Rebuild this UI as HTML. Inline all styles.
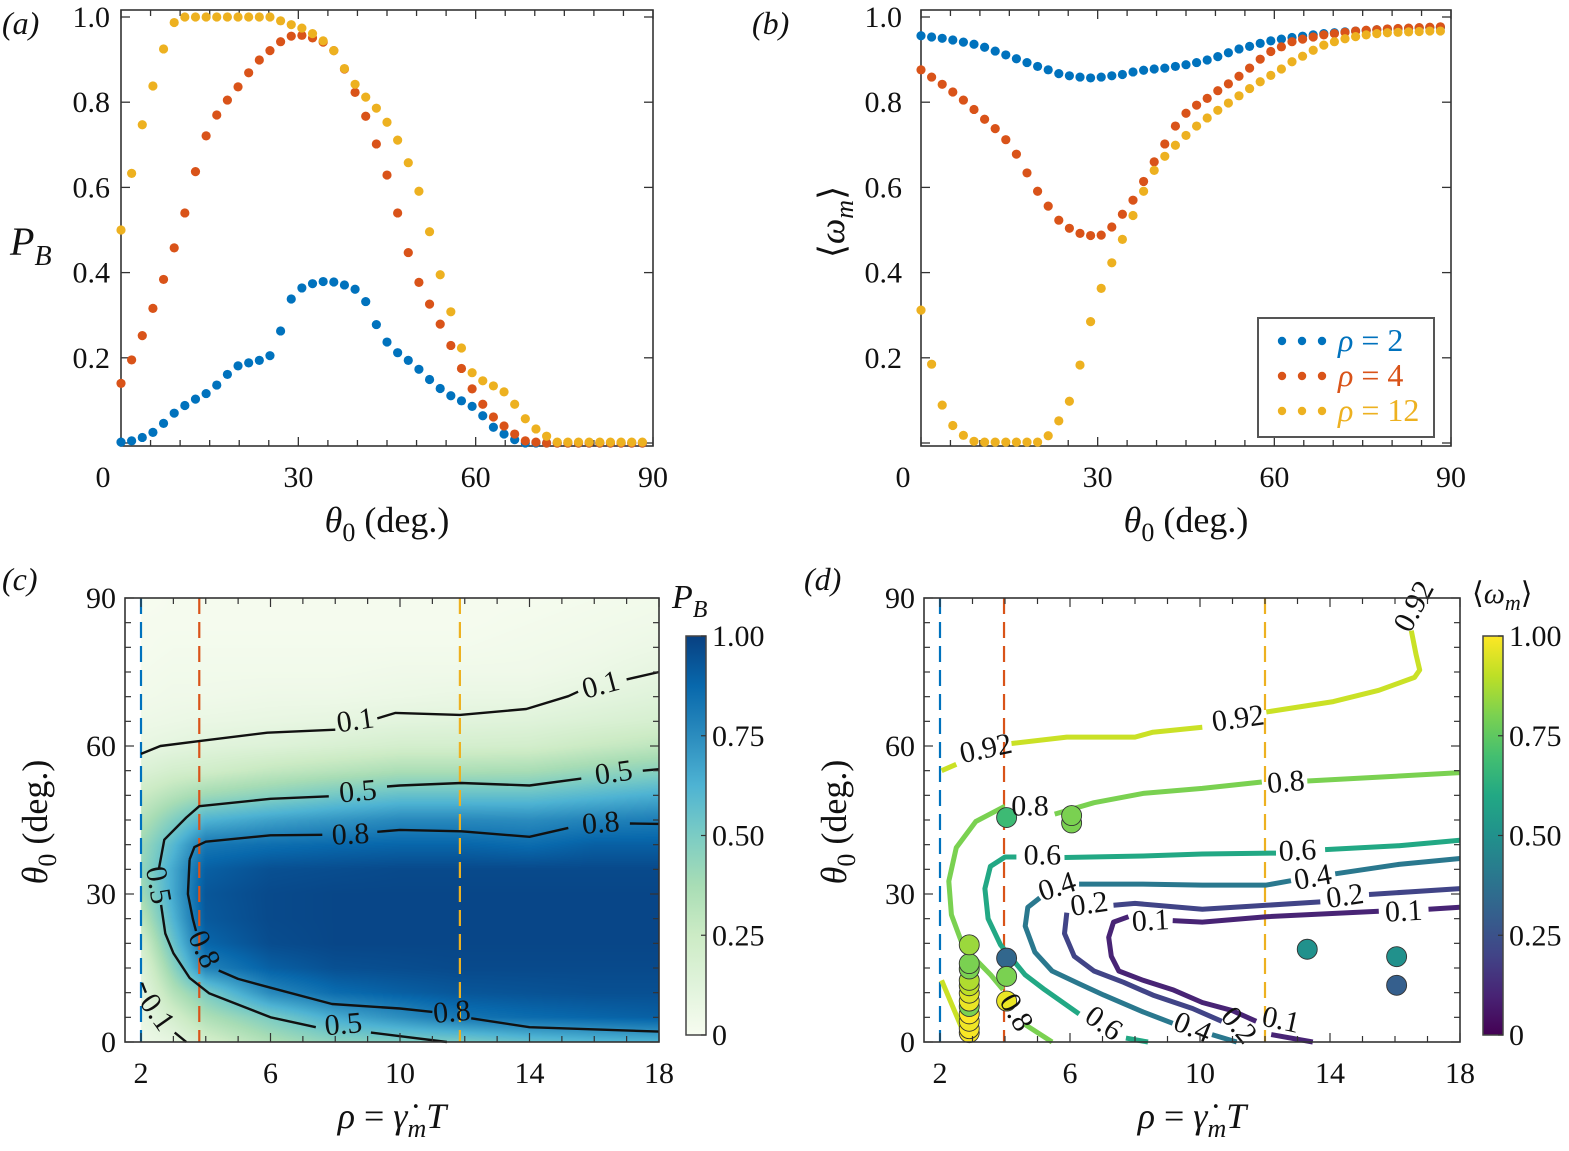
<!DOCTYPE html>
<html><head><meta charset="utf-8"><style>
body{margin:0;background:#fff;width:1569px;height:1151px;position:relative;overflow:hidden;font-family:"Liberation Serif","Times New Roman",Times,"Noto Serif CJK SC",serif}
#hm{position:absolute;left:125px;top:598px}
#fig{position:absolute;left:0;top:0}
svg text{font-family:"Liberation Serif","Times New Roman",Times,"DejaVu Serif","Noto Serif CJK SC",serif;fill:#111}
</style></head><body>
<canvas id="hm" width="534" height="444"></canvas>
<svg id="fig" width="1569" height="1151" xmlns="http://www.w3.org/2000/svg"></svg>
<script>
// ---------- data: panels (a),(b) ----------
const nPts = 50;
const thetaPts = Array.from({length:nPts},(_, i)=>i*1.8);
const aBlue=[0.002,0.005,0.013,0.025,0.046,0.070,0.088,0.103,0.116,0.136,0.161,0.181,0.188,0.194,0.205,0.263,0.338,0.364,0.374,0.379,0.378,0.371,0.361,0.332,0.278,0.237,0.212,0.194,0.173,0.149,0.128,0.111,0.099,0.086,0.064,0.037,0.021,0.008,0,0,0,0,0,0,0,0,0,0,0,0];
const aOrange=[0.140,0.195,0.252,0.316,0.384,0.458,0.540,0.637,0.721,0.770,0.805,0.836,0.869,0.899,0.921,0.942,0.955,0.957,0.951,0.941,0.921,0.878,0.823,0.767,0.702,0.629,0.540,0.447,0.377,0.326,0.279,0.229,0.175,0.127,0.091,0.061,0.040,0.021,0.005,0.002,0,0,0,0,0,0,0,0,0,0];
const aYellow=[0.500,0.633,0.747,0.838,0.925,0.987,1,1,1,1,1,1,1,1,1,0.991,0.982,0.974,0.961,0.944,0.921,0.879,0.842,0.812,0.786,0.753,0.711,0.658,0.591,0.496,0.395,0.308,0.223,0.165,0.146,0.134,0.120,0.091,0.057,0.033,0.016,0.002,0.002,0.002,0.002,0.002,0.002,0.002,0.002,0.002];
const bBlue=[0.956,0.953,0.950,0.946,0.941,0.936,0.929,0.920,0.911,0.902,0.893,0.884,0.876,0.867,0.862,0.859,0.857,0.859,0.862,0.865,0.871,0.875,0.878,0.880,0.884,0.888,0.893,0.899,0.907,0.916,0.925,0.931,0.938,0.944,0.948,0.952,0.955,0.958,0.961,0.963,0.965,0.967,0.968,0.970,0.971,0.972,0.973,0.974,0.975,0.975];
const bOrange=[0.876,0.859,0.842,0.824,0.805,0.783,0.760,0.738,0.712,0.678,0.634,0.591,0.556,0.523,0.504,0.492,0.487,0.488,0.507,0.537,0.570,0.614,0.660,0.702,0.744,0.774,0.793,0.809,0.827,0.843,0.861,0.880,0.901,0.919,0.930,0.942,0.948,0.953,0.958,0.961,0.964,0.967,0.969,0.970,0.972,0.973,0.974,0.975,0.976,0.977];
const bYellow=[0.312,0.185,0.089,0.041,0.018,0.004,0.002,0.002,0.002,0.002,0.002,0.002,0.017,0.052,0.098,0.183,0.285,0.363,0.423,0.478,0.534,0.591,0.640,0.673,0.699,0.722,0.744,0.763,0.781,0.798,0.815,0.832,0.848,0.863,0.878,0.895,0.908,0.922,0.934,0.942,0.949,0.954,0.958,0.961,0.963,0.964,0.965,0.966,0.967,0.967];
const seriesNames=["rho-2","rho-4","rho-12"];
const seriesLabels=["2","4","12"];
const seriesColors=["#0072bd","#d95319","#edb120"];
const xTicksAB=[0,30,60,90];
const yTicksAB=[0.2,0.4,0.6,0.8,1.0];

// ---------- data: panel (c) heatmap grid ----------
const gridRho=[2,3,4,6,8,10,12,14,16,18];
const gridTheta=[0,5,10,15,20,25,30,35,40,45,50,55,60,65,70,75,80,85,90];
const pbCol2=[0.05,0.07,0.09,0.13,0.2,0.3,0.38,0.42,0.4,0.33,0.25,0.15,0.08,0.05,0.03,0.02,0.01,0.01,0];
const pbCol3=[0.09,0.2,0.33,0.45,0.55,0.62,0.66,0.66,0.6,0.48,0.33,0.2,0.1,0.06,0.04,0.03,0.02,0.01,0.01];
const pbCol4=[0.2,0.35,0.5,0.78,0.88,0.92,0.93,0.9,0.82,0.62,0.4,0.22,0.12,0.07,0.04,0.03,0.02,0.01,0.01];
const pbCol6=[0.35,0.5,0.76,0.9,0.96,0.97,0.97,0.95,0.85,0.68,0.46,0.28,0.14,0.08,0.05,0.03,0.02,0.01,0.01];
const pbCol8=[0.45,0.65,0.86,0.95,0.98,0.98,0.98,0.96,0.87,0.72,0.52,0.32,0.17,0.09,0.05,0.03,0.02,0.01,0.01];
const pbCol10=[0.48,0.74,0.9,0.96,0.98,0.98,0.98,0.97,0.88,0.76,0.56,0.36,0.2,0.11,0.06,0.04,0.02,0.01,0.01];
const pbCol12=[0.5,0.83,0.93,0.97,0.98,0.98,0.98,0.97,0.88,0.76,0.56,0.36,0.2,0.12,0.07,0.04,0.02,0.01,0.01];
const pbCol14=[0.56,0.86,0.94,0.97,0.98,0.98,0.98,0.97,0.86,0.75,0.56,0.37,0.21,0.13,0.07,0.04,0.03,0.02,0.01];
const pbCol16=[0.6,0.88,0.95,0.97,0.98,0.98,0.98,0.97,0.9,0.78,0.6,0.42,0.26,0.16,0.1,0.06,0.04,0.03,0.02];
const pbCol18=[0.62,0.9,0.95,0.97,0.98,0.98,0.98,0.97,0.9,0.8,0.64,0.46,0.3,0.19,0.13,0.09,0.06,0.04,0.03];
const pbGrid=[pbCol2,pbCol3,pbCol4,pbCol6,pbCol8,pbCol10,pbCol12,pbCol14,pbCol16,pbCol18];

// contour lines (c): segments of [rho, theta]
const cSegs=[
 [[2,58.4],[2.6,60],[3.8,61],[5.9,62.7],[8.0,63.3]],
 [[9.3,65.6],[9.86,66.7],[11.85,66.3],[13.9,67.5],[15.2,70.1],[15.5,71]],
 [[17,73.5],[18,75]],
 [[2.03,12],[2.15,10]],
 [[3.04,1.9],[3.4,0]],
 [[2.55,35],[2.72,41],[3.4,45.5],[3.8,47.8],[6,49.3],[7.8,49.8]],
 [[9.6,51.8],[10,52],[11.9,52.5],[14,52],[15.6,53.4]],
 [[17.5,55],[18,55.3]],
 [[2.62,27.8],[2.75,22],[3,18],[3.5,13],[4.1,9.9],[6,5],[7.4,3.0]],
 [[9.1,1.9],[11.45,0]],
 [[3.5,37],[3.65,39.5],[4,40.6],[6,41.9],[7.6,42.0]],
 [[9.3,42.6],[10,43],[11.9,42.7],[14,41.6],[15.2,43.4]],
 [[17.1,44.3],[18,44.2]],
 [[3.5,37],[3.45,30],[3.6,25],[3.7,22.5]],
 [[4.4,14.5],[5.0,12.8],[6,11],[7.9,7.7],[10,6.8],[11.0,6.1]],
 [[12.2,4.8],[14,3],[18,2.1]]
];
const cLabRho=[8.62,16.2,2.5,2.54,8.7,16.6,8.25,8.47,16.2,3.95,11.6];
const cLabTheta=[65.2,72.4,6,31.8,50.8,54.6,3.6,42.1,44.4,18.8,6.1];
const cLabText=["0.1","0.1","0.1","0.5","0.5","0.5","0.5","0.8","0.8","0.8","0.8"];
const cLabRot=[-8,-15,55,80,-5,-8,-5,-3,-5,65,-5];
const cDashRho=[2,3.8,11.85];
const cDashCol=["#0072bd","#d95319","#edb120"];

// ---------- data: panel (d) ----------
const dLevels=[0.92,0.92,0.92,0.92,0.8,0.8,0.8,0.8,0.6,0.6,0.6,0.6,0.4,0.4,0.4,0.4,0.2,0.2,0.2,0.1,0.1,0.1,0.1];
const dSegs=[
 [[2.05,55],[2.5,56.3]],
 [[4.2,60.5],[5.9,61.8],[8,61.8],[8.55,62.8],[10.07,63.8]],
 [[12.04,66.9],[14.1,69],[15.5,71.3],[16.6,73.9],[16.76,75.4],[16.65,78.5],[16.5,83.4]],
 [[2.05,12.5],[2.8,0.8]],
 [[4.0,47.8],[3.1,44.7],[2.5,39.4],[2.27,32.6],[2.35,25.8],[2.65,20.5],[2.88,18.2],[3.56,13.6],[3.94,10.6]],
 [[4.6,3.6],[5.45,0]],
 [[5.53,46.2],[6.74,48.5],[8.25,50.4],[10.07,51.4],[11.9,52.7]],
 [[13.3,52.9],[15.8,53.8],[18,54.6]],
 [[4.35,37.5],[4.0,37.5],[3.55,35.6],[3.38,31.1],[3.48,25],[3.86,19.7],[4.62,13.6],[5.22,10.6],[6.28,5.7]],
 [[7.72,0.8],[8.4,0]],
 [[5.83,37.4],[8.25,37.7],[10.07,38.1],[12.34,38.3]],
 [[13.85,39],[16.12,39.8],[18,40.9]],
 [[5.07,29.2],[4.7,27.3],[4.62,23.5],[4.92,18.2],[5.45,14.4],[6.28,11.8],[7.04,9.5],[8.25,6.1],[9.16,3.8]],
 [[10.37,1.5],[11.13,0]],
 [[6.28,32],[8.25,32],[10.07,31.8],[12.04,31.8],[12.8,32.7]],
 [[14.16,34.1],[16.12,36],[18,37.2]],
 [[5.9,26.2],[5.83,22],[6.13,17.4],[6.74,14.4],[7.65,12.1],[8.55,9.5],[9.77,6.8],[10.67,4.2]],
 [[7.34,27.7],[8.0,28.1],[10.07,26.9],[12.04,27.7],[13.7,28.4]],
 [[15.2,29.9],[18,31.1]],
 [[7.8,25.4],[7.34,24.3],[7.19,21.2],[7.27,17.4],[7.5,14.4],[8.25,12.5],[9.16,10.6],[10.07,8],[10.98,6.4],[11.73,4.2]],
 [[12.19,1.5],[13.47,0]],
 [[9.16,24.6],[10.07,24.3],[12.04,25.4],[15.5,26.5]],
 [[17.03,26.9],[18,27.3]]
];
const dLabRho=[3.41,11.17,16.58,4.35,4.77,12.64,7.04,5.15,13.0,5.6,9.77,13.47,6.59,11.2,14.46,8.48,12.49,16.27];
const dLabTheta=[59.5,65.6,88.3,6.0,47.8,52.7,3.8,37.9,38.8,31.5,3.0,33.4,28.0,3.4,29.6,24.6,4.5,26.5];
const dLabText=["0.92","0.92","0.92","0.8","0.8","0.8","0.6","0.6","0.6","0.4","0.4","0.4","0.2","0.2","0.2","0.1","0.1","0.1"];
const dLabRot=[-12,-8,-62,60,0,-5,35,0,-3,-18,22,-10,-8,50,-8,-3,12,-3];
const scRho=[2.9,2.9,2.9,2.9,2.9,2.9,2.9,2.9,2.9,2.9,2.9,2.9,4.05,4.05,4.05,4.05,6.05,6.05,13.3,16.05,16.05];
const scTheta=[1.9,2.7,4.2,5.7,7.2,8.3,9.9,11.4,12.5,14.8,15.9,19.7,45.5,17,13.3,8.3,44.4,45.9,18.8,17.3,11.5];
const scVal=[0.99,0.99,0.98,1.0,0.8,0.97,0.95,0.9,0.88,0.8,0.8,0.85,0.68,0.33,0.8,0.97,0.8,0.8,0.5,0.5,0.3];
const dDashRho=[2,3.97,12];
const rhoTicks=[2,6,10,14,18];
const thTicks=[0,30,60,90];
const cbTicks=[0,0.25,0.5,0.75,1];
const cbLabels=["0","0.25","0.50","0.75","1.00"];

// ---------- colormaps ----------
const GNBU=[[0,'#f7fcf0'],[.125,'#e0f3db'],[.25,'#ccebc5'],[.375,'#a8ddb5'],[.5,'#7bccc4'],[.625,'#4eb3d3'],[.75,'#2b8cbe'],[.875,'#0868ac'],[1,'#084081']];
const VIR=[[0,'#440154'],[.1,'#482475'],[.2,'#414487'],[.3,'#355f8d'],[.4,'#2a788e'],[.5,'#21918c'],[.6,'#22a884'],[.7,'#44bf70'],[.8,'#7ad151'],[.9,'#bddf26'],[1,'#fde725']];
function hex(h){return [parseInt(h.slice(1,3),16),parseInt(h.slice(3,5),16),parseInt(h.slice(5,7),16)];}
function cmap(m,v){v=Math.max(0,Math.min(1,v));for(let i=1;i<m.length;i++){if(v<=m[i][0]){const t=(v-m[i-1][0])/(m[i][0]-m[i-1][0]);const a=hex(m[i-1][1]),b=hex(m[i][1]);return a.map((c,k)=>Math.round(c+(b[k]-c)*t));}}return hex(m[m.length-1][1]);}
function rgb(c){return 'rgb('+c.join(',')+')';}

// ---------- svg helpers ----------
const NS="http://www.w3.org/2000/svg";
const svg=document.getElementById('fig');
const SERIF='"Liberation Serif", "Times New Roman", Times, "DejaVu Serif", "Noto Serif CJK SC", serif';
function el(tag,attrs,name,parent){
  const e=document.createElementNS(NS,tag);
  for(const k in attrs) e.setAttribute(k,attrs[k]);
  
  
  (parent||svg).appendChild(e);
  return e;
}
function txt(x,y,s,attrs,name,parent){
  const a=Object.assign({x:x,y:y,'font-size':30},attrs||{});
  const t=el('text',a,name,parent);
  t.style.fontFamily=SERIF;
  t.textContent=s;
  return t;
}
function grp(name){return el('g',{},name);}

// ---------- panels (a),(b) ----------
const yAB=v=>443-v*426;
const xA=t=>121+t*532/90;
const xB=t=>921+t*530/90;
function panelAB(xf,x0,x1,gname,series,ylabX){
  const g=grp(gname);
  el('rect',{x:x0,y:10,width:x1-x0,height:436,fill:'none',stroke:'#333','stroke-width':1.6},'axes-box',g);
  for(let t=0;t<=90;t+=5){
    const L=(t%30===0)?9:6;
    el('line',{x1:xf(t),x2:xf(t),y1:446,y2:446-L,stroke:'#333','stroke-width':1.3},'x-tick',g);
    el('line',{x1:xf(t),x2:xf(t),y1:10,y2:10+L,stroke:'#333','stroke-width':1.3},'x-tick-top',g);
  }
  for(let v=0;v<=1.001;v+=0.2){
    el('line',{x1:x0,x2:x0+9,y1:yAB(v),y2:yAB(v),stroke:'#333','stroke-width':1.3},'y-tick',g);
    el('line',{x1:x1,x2:x1-9,y1:yAB(v),y2:yAB(v),stroke:'#333','stroke-width':1.3},'y-tick-right',g);
  }
  xTicksAB.forEach(t=>{const px=t===0?xf(0)-18:xf(t);txt(px,487,String(t),{'text-anchor':'middle'},'x-tick-label',g);});
  yTicksAB.forEach(v=>{txt(ylabX,yAB(v)+10,v.toFixed(1),{'text-anchor':'end'},'y-tick-label',g);});
  series.forEach((s,si)=>{
    const sg=el('g',{fill:seriesColors[si]},'series-'+seriesNames[si],g);
    s.forEach((v,i)=>{el('circle',{cx:xf(thetaPts[i]),cy:yAB(v),r:4.6},'data-point',sg);});
  });
  const tt=txt((x0+x1)/2,532,'',{'text-anchor':'middle','font-size':36},'x-axis-title',g);
  tt.innerHTML='<tspan font-style="italic">θ</tspan><tspan font-size="26" dy="9">0</tspan><tspan dy="-9"> (deg.)</tspan>';
  return g;
}
const gA=panelAB(xA,121,653,'panel-a',[aBlue,aOrange,aYellow],110);
const gB=panelAB(xB,921,1451,'panel-b',[bBlue,bOrange,bYellow],902);
txt(2,34,'(a)',{'font-style':'italic','font-size':32},'panel-label-a');
txt(752,34,'(b)',{'font-style':'italic','font-size':32},'panel-label-b');
const ytA=txt(10,255,'',{'font-size':40},'y-axis-title-a');
ytA.innerHTML='<tspan font-style="italic">P</tspan><tspan font-size="28" dy="10" font-style="italic">B</tspan>';
const ytB=txt(0,0,'',{'font-size':36,'text-anchor':'middle',transform:'translate(844,222) rotate(-90)'},'y-axis-title-b');
ytB.innerHTML='⟨<tspan font-style="italic">ω</tspan><tspan font-size="26" dy="9" font-style="italic">m</tspan><tspan dy="-9">⟩</tspan>';
// legend
const lg=el('g',{},'legend');
el('rect',{x:1258,y:318,width:176,height:119,fill:'#fff',stroke:'#555','stroke-width':2},'legend-box',lg);
seriesLabels.forEach((lab,i)=>{
  const yy=341+i*35;
  const eg=el('g',{fill:seriesColors[i]},'legend-entry-'+seriesNames[i],lg);
  [1282,1302,1322].forEach(xx=>el('circle',{cx:xx,cy:yy,r:4.2},'legend-marker',eg));
  const t=txt(1338,yy+10,'',{'font-size':32,fill:seriesColors[i]},'legend-label',eg);
  t.innerHTML='<tspan font-style="italic">ρ</tspan> = '+lab;
  t.style.fill=seriesColors[i];
});

// ---------- panels (c),(d) common ----------
const yCD=th=>1042-th*444/90;
const xC=r=>141+(r-2)*32.375;
const xD=r=>940+(r-2)*32.5;
function frameCD(xf,x0,x1,g,ylabX){
  el('rect',{x:x0,y:598,width:x1-x0,height:444,fill:'none',stroke:'#333','stroke-width':1.6},'axes-box',g);
  for(let r=2;r<=18;r++){
    const L=(r%4===2)?9:6;
    el('line',{x1:xf(r),x2:xf(r),y1:1042,y2:1042-L,stroke:'#333','stroke-width':1.2},'x-tick',g);
    el('line',{x1:xf(r),x2:xf(r),y1:598,y2:598+L,stroke:'#333','stroke-width':1.2},'x-tick-top',g);
  }
  for(let t=0;t<=90;t+=5){
    const L=(t%30===0)?9:6;
    el('line',{x1:x0,x2:x0+L,y1:yCD(t),y2:yCD(t),stroke:'#333','stroke-width':1.2},'y-tick',g);
    el('line',{x1:x1,x2:x1-L,y1:yCD(t),y2:yCD(t),stroke:'#333','stroke-width':1.2},'y-tick-right',g);
  }
  rhoTicks.forEach(r=>txt(xf(r),1083,String(r),{'text-anchor':'middle'},'x-tick-label',g));
  thTicks.forEach(t=>txt(ylabX,yCD(t)+10,String(t),{'text-anchor':'end'},'y-tick-label',g));
  const xt=txt((x0+x1)/2,1128,'',{'text-anchor':'middle','font-size':36},'x-axis-title',g);
  xt.innerHTML='<tspan font-style="italic">ρ</tspan> = <tspan font-style="italic">γ̇</tspan><tspan font-size="26" dy="9" font-style="italic">m</tspan><tspan dy="-9" font-style="italic">T</tspan>';
  const yt=txt(0,0,'',{'font-size':36,'text-anchor':'middle',transform:'translate('+(x0-78)+',822) rotate(-90)'},'y-axis-title',g);
  yt.innerHTML='<tspan font-style="italic">θ</tspan><tspan font-size="26" dy="9">0</tspan><tspan dy="-9"> (deg.)</tspan>';
}
function pathOf(seg,xf){return seg.map((p,i)=>(i?'L':'M')+xf(p[0]).toFixed(1)+','+yCD(p[1]).toFixed(1)).join('');}
function colorbar(x,g,map,labels){
  const id='grad'+x;
  const defs=el('defs',{},'defs',g);
  const lgd=el('linearGradient',{id:id,x1:0,y1:1,x2:0,y2:0},'colorbar-gradient',defs);
  map.forEach(s=>el('stop',{offset:s[0],'stop-color':s[1]},'gradient-stop',lgd));
  el('rect',{x:x,y:636,width:20,height:399,fill:'url(#'+id+')',stroke:'#444','stroke-width':1.5},'colorbar',g);
  cbTicks.forEach((v,i)=>{
    const yy=1035-v*399;
    el('line',{x1:x+20,x2:x+15,y1:yy,y2:yy,stroke:'#333','stroke-width':1.2},'colorbar-tick',g);
    txt(x+26,yy+10,cbLabels[i],{},'colorbar-tick-label',g);
  });
}

// ---------- panel (c) ----------
(function(){
  const cv=document.getElementById('hm');const ctx=cv.getContext('2d');
  const W=cv.width,H=cv.height;const img=ctx.createImageData(W,H);
  for(let py=0;py<H;py++){
    const th=(1042-(598+py+0.5))*90/444;
    let ri=Math.min(gridTheta.length-2,Math.max(0,Math.floor(th/5)));
    const ft=Math.max(0,Math.min(1,(th-gridTheta[ri])/5));
    for(let px=0;px<W;px++){
      const rho=2+((125+px+0.5)-141)/32.375;
      let c=[255,255,255];
      if(rho>=2){
        let ci=0;while(ci<gridRho.length-2&&rho>gridRho[ci+1])ci++;
        const fr=Math.max(0,Math.min(1,(rho-gridRho[ci])/(gridRho[ci+1]-gridRho[ci])));
        const A=pbGrid[ci],B=pbGrid[ci+1];
        const v0=A[ri]+(A[ri+1]-A[ri])*ft, v1=B[ri]+(B[ri+1]-B[ri])*ft;
        c=cmap(GNBU,v0+(v1-v0)*fr);
      }
      const k=(py*W+px)*4;img.data[k]=c[0];img.data[k+1]=c[1];img.data[k+2]=c[2];img.data[k+3]=255;
    }
  }
  ctx.putImageData(img,0,0);
})();
const gC=grp('panel-c');
const dg=el('g',{},'reference-lines',gC);
cDashRho.forEach((r,i)=>el('line',{x1:xC(r),x2:xC(r),y1:598,y2:1042,stroke:cDashCol[i],'stroke-width':2.2,'stroke-dasharray':'16 8'},'dashed-line-rho',dg));
const cg=el('g',{fill:'none',stroke:'#111','stroke-width':2.4,'stroke-linejoin':'round'},'contour-lines',gC);
cSegs.forEach(s=>el('path',{d:pathOf(s,xC)},'contour-segment',cg));
cLabText.forEach((s,i)=>{const x=xC(cLabRho[i]),y=yCD(cLabTheta[i]);
  txt(x,y,s,{'text-anchor':'middle','dominant-baseline':'central','font-size':30,transform:'rotate('+cLabRot[i]+' '+x+' '+y+')'},'contour-label',gC);});
frameCD(xC,125,659,gC,116);
colorbar(686,gC,GNBU,cbLabels);
const ctl=txt(672,608,'',{'font-size':34},'colorbar-title-c',gC);
ctl.innerHTML='<tspan font-style="italic">P</tspan><tspan font-size="24" dy="9" font-style="italic">B</tspan>';
txt(2,590,'(c)',{'font-style':'italic','font-size':32},'panel-label-c');

// ---------- panel (d) ----------
const gD=grp('panel-d');
const dg2=el('g',{},'reference-lines',gD);
dDashRho.forEach((r,i)=>el('line',{x1:xD(r),x2:xD(r),y1:598,y2:1042,stroke:cDashCol[i],'stroke-width':2.2,'stroke-dasharray':'16 8'},'dashed-line-rho',dg2));
const cg2=el('g',{fill:'none','stroke-width':5,'stroke-linecap':'butt','stroke-linejoin':'round'},'contour-lines',gD);
dSegs.forEach((s,i)=>el('path',{d:pathOf(s,xD),stroke:rgb(cmap(VIR,dLevels[i]))},'contour-'+dLevels[i],cg2));
const sg=el('g',{stroke:'#333','stroke-width':0.9},'scatter-points',gD);
scVal.forEach((v,i)=>el('circle',{cx:xD(scRho[i]),cy:yCD(scTheta[i]),r:10,fill:rgb(cmap(VIR,v))},'simulation-point',sg));
dLabText.forEach((s,i)=>{const x=xD(dLabRho[i]),y=yCD(dLabTheta[i]);
  txt(x,y,s,{'text-anchor':'middle','dominant-baseline':'central','font-size':30,transform:'rotate('+dLabRot[i]+' '+x+' '+y+')'},'contour-label',gD);});
frameCD(xD,924,1460,gD,915);
colorbar(1483,gD,VIR,cbLabels);
const dtl=txt(1472,603,'',{'font-size':30},'colorbar-title-d',gD);
dtl.innerHTML='⟨<tspan font-style="italic">ω</tspan><tspan font-size="22" dy="7" font-style="italic">m</tspan><tspan dy="-7">⟩</tspan>';
txt(804,590,'(d)',{'font-style':'italic','font-size':32},'panel-label-d');
</script>
</body></html>
